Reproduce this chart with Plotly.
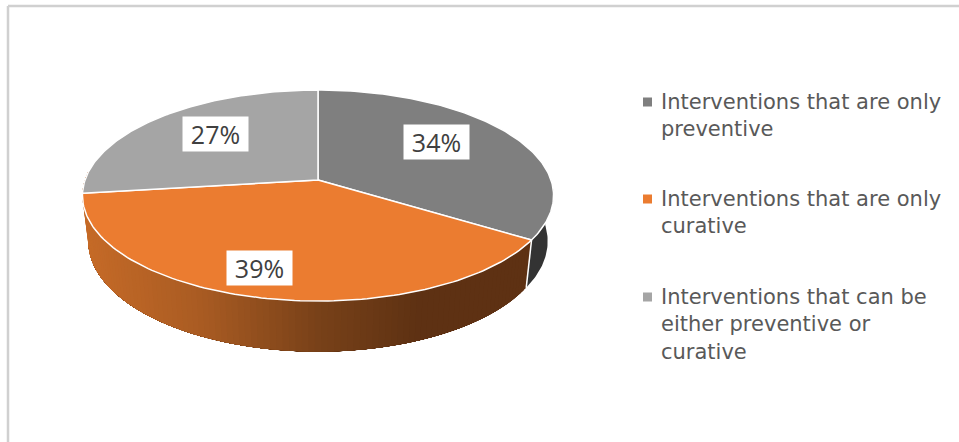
import numpy as np
import plotly.graph_objects as go

# Share of interventions by type
categories = [
    "Interventions that are only<br>preventive",
    "Interventions that are only<br>curative",
    "Interventions that can be<br>either preventive or<br>curative",
]
values = [34, 39, 27]
top_colors = ["#7f7f7f", "#eb7c30", "#a5a5a5"]

W, H = 959, 442
CX, CY = 318, 180      # where the pie's axis meets the top face
A, B, K = 233, 103.2, 0.147
BOTTOM_SCALE, BOTTOM_B, BOTTOM_CY = 0.975, 108, 225
# Nudges for the percentage boxes relative to their slice's mid-radius point
LABEL_NUDGE = [(1, -9), (-25, 21.5), (-3, -7)]
LEGEND_Y = [102, 199, 297]

# Wall shading of the orange slice, left to right
SHADE_X = [85, 200, 320, 420, 560]
SHADE_R = [198, 170, 120, 94, 94]
SHADE_G = [107, 92, 65, 49, 49]
SHADE_B = [40, 35, 25, 19, 19]


def project(theta_deg, r=1.0, bottom=False):
    """Perspective projection of a disc point; angle runs clockwise from 12 o'clock."""
    t = np.radians(theta_deg)
    x, y = r * np.sin(t), r * np.cos(t)
    w = 1 + K * y
    if bottom:
        return CX + BOTTOM_SCALE * A * x / w, BOTTOM_CY - BOTTOM_B * y / w
    return CX + A * x / w, CY - B * y / w


def polygon(fig, xs, ys, fill, line="rgba(0,0,0,0)", width=0):
    fig.add_trace(go.Scatter(
        x=list(xs), y=list(ys), mode="lines", fill="toself", fillcolor=fill,
        line=dict(color=line, width=width), hoverinfo="skip", showlegend=False,
    ))


fig = go.Figure()

cum = np.cumsum([0] + values) * 3.6
start_orange, end_orange = cum[1], cum[2]

# Side wall of the dark grey slice, back to the right-hand tangent
th = np.linspace(90, start_orange, 40)
tx, ty = project(th)
bx, by = project(th, bottom=True)
polygon(fig, np.r_[tx, bx[::-1]], np.r_[ty, by[::-1]], "#333333")

# Side wall of the orange slice: each strip runs on to the far end, so the next
# one paints over it and no hairline seams show between neighbours
edges = np.linspace(start_orange, 275, 111)
for a0 in edges[:-1]:
    seg = np.linspace(a0, 275, 60)
    tx, ty = project(seg)
    bx, by = project(seg, bottom=True)
    mid = (project(a0 + 0.7)[0] + project(a0 + 0.7, bottom=True)[0]) / 2
    rgb = [int(np.interp(mid, SHADE_X, c)) for c in (SHADE_R, SHADE_G, SHADE_B)]
    polygon(fig, np.r_[tx, bx[::-1]], np.r_[ty, by[::-1]], f"rgb({rgb[0]},{rgb[1]},{rgb[2]})")

# White seam between the two visible walls
sx = [project(start_orange)[0], project(start_orange, bottom=True)[0]]
sy = [project(start_orange)[1], project(start_orange, bottom=True)[1]]
fig.add_trace(go.Scatter(x=sx, y=sy, mode="lines", line=dict(color="white", width=1.5),
                         hoverinfo="skip", showlegend=False))

# Top face
for i, col in enumerate(top_colors):
    th = np.linspace(cum[i], cum[i + 1], 120)
    ex, ey = project(th)
    polygon(fig, np.r_[CX, ex, CX], np.r_[CY, ey, CY], col, "white", 1.5)

# Percentage boxes
annotations = []
for i, v in enumerate(values):
    px, py = project((cum[i] + cum[i + 1]) / 2, 0.6)
    annotations.append(dict(
        x=px + LABEL_NUDGE[i][0], y=py + LABEL_NUDGE[i][1], text=f"{v}%", showarrow=False,
        font=dict(family="Open Sans", size=25, color="#404040"), bgcolor="white",
        borderpad=0, width=65, height=34, align="center", xref="x", yref="y",
    ))

# Legend keys and entries
fig.add_trace(go.Scatter(
    x=[647.5] * 3, y=LEGEND_Y, mode="markers",
    marker=dict(symbol="square", size=9, color=top_colors),
    hoverinfo="skip", showlegend=False,
))
for name, y in zip(categories, LEGEND_Y):
    annotations.append(dict(
        x=659, y=y - 14, text=name, showarrow=False, xanchor="left", yanchor="top", align="left",
        font=dict(family="DejaVu Sans", size=21, color="#595959"), xref="x", yref="y",
    ))

# Thin frame around the chart area
shapes = [
    dict(type="line", x0=8, x1=8, y0=6, y1=H, line=dict(color="#d0d0d0", width=2.5), layer="below"),
    dict(type="line", x0=8, x1=W, y0=6, y1=6, line=dict(color="#d0d0d0", width=2.5), layer="below"),
]

fig.update_layout(
    width=W, height=H, margin=dict(l=0, r=0, t=0, b=0),
    paper_bgcolor="white", plot_bgcolor="white",
    xaxis=dict(range=[0, W], visible=False, fixedrange=True),
    yaxis=dict(range=[H, 0], visible=False, fixedrange=True),
    annotations=annotations, shapes=shapes,
)
fig.write_html("out.html", config={"displayModeBar": False})
